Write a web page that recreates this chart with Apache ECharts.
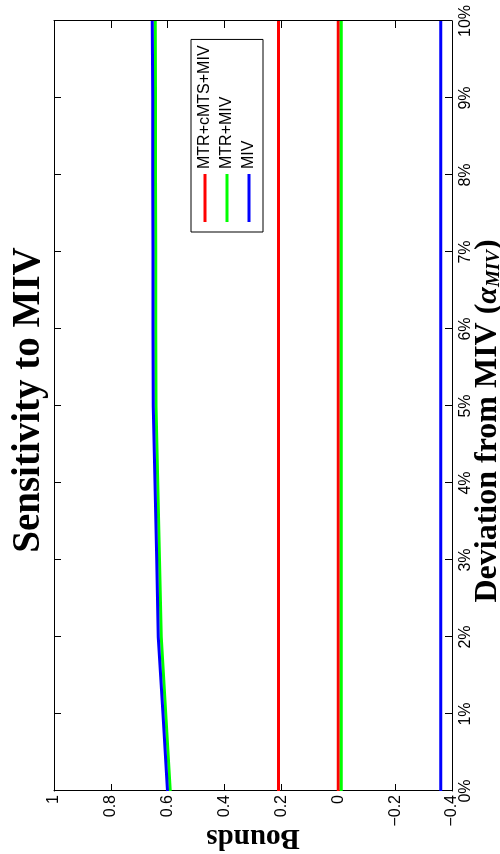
<!DOCTYPE html>
<html>
<head>
<meta charset="utf-8">
<script src="https://cdn.jsdelivr.net/npm/echarts@6/dist/echarts.min.js"></script>
<style>
html,body{margin:0;padding:0;width:500px;height:854px;overflow:hidden;background:#fff;}
#c{position:absolute;left:0;top:854px;width:854px;height:500px;transform-origin:0 0;transform:rotate(-90deg);}
</style>
</head>
<body>
<div id="c"></div>
<script>
// Deviation from MIV (percent)
const deviation = [0, 1, 2, 3, 4, 5, 6, 7, 8, 9, 10];
// Bounds: MTR+cMTS+MIV
const mtrCmtsMivUpper = [0.21, 0.21, 0.21, 0.21, 0.21, 0.21, 0.21, 0.21, 0.21, 0.21, 0.21];
const mtrCmtsMivLower = [0.0, 0.0, 0.0, 0.0, 0.0, 0.0, 0.0, 0.0, 0.0, 0.0, 0.0];
// Bounds: MTR+MIV
const mtrMivUpper = [0.591, 0.607, 0.623, 0.629, 0.635, 0.641, 0.642, 0.642, 0.643, 0.643, 0.644];
const mtrMivLower = [-0.01, -0.01, -0.01, -0.01, -0.01, -0.01, -0.01, -0.01, -0.01, -0.01, -0.01];
// Bounds: MIV
const mivUpper = [0.601, 0.617, 0.633, 0.639, 0.645, 0.651, 0.652, 0.652, 0.653, 0.653, 0.654];
const mivLower = [-0.36, -0.36, -0.36, -0.36, -0.36, -0.36, -0.36, -0.36, -0.36, -0.36, -0.36];

const seriesNames = ['MTR+cMTS+MIV', 'MTR+MIV', 'MIV'];
const seriesColors = ['#ff0000', '#00ff00', '#0000ff'];
const titleText = 'Sensitivity to MIV';
const yName = 'Bounds';

const pair = arr => deviation.map((d, i) => [d, arr[i]]);
const mk = (name, color, arr) => ({
  type: 'line', name: name, data: pair(arr), showSymbol: false, symbol: 'none',
  lineStyle: { color: color, width: 3 }, itemStyle: { color: color }, z: 3
});

const SANS = '"Liberation Sans", Arial, Helvetica, sans-serif';
const SERIF = '"Liberation Serif", "Times New Roman", serif';
const fmtY = v => { const r = Math.round(v * 10) / 10; return String(r).replace('-', '\u2212'); };

const chart = echarts.init(document.getElementById('c'));
const baseX = { type: 'value', min: 0, max: 10, interval: 1, splitLine: { show: false },
  axisLine: { show: true, onZero: false, lineStyle: { color: '#000', width: 1 } },
  axisTick: { show: true, inside: true, length: 7, lineStyle: { color: '#000' } } };
const baseY = { type: 'value', min: -0.4, max: 1, interval: 0.2, splitLine: { show: false },
  axisLine: { show: true, onZero: false, lineStyle: { color: '#000', width: 1 } },
  axisTick: { show: true, inside: true, length: 7, lineStyle: { color: '#000' } } };

chart.setOption({
  animation: false,
  backgroundColor: '#fff',
  title: {
    text: titleText, left: 449, top: 4, textAlign: 'center',
    textStyle: { fontFamily: SERIF, fontWeight: 'bold', fontSize: 39, color: '#000' }
  },
  legend: {
    orient: 'vertical', left: 622, top: 191,
    data: seriesNames,
    icon: 'rect', itemWidth: 48, itemHeight: 3, itemGap: 6,
    padding: [6, 6, 6, 10],
    backgroundColor: '#fff', borderColor: '#000', borderWidth: 1,
    textStyle: { fontFamily: SANS, fontSize: 16, color: '#000', lineHeight: 16 }
  },
  grid: { left: 63, right: 21, top: 54, bottom: 48, outerBoundsMode: 'none', containLabel: false },
  xAxis: [
    Object.assign({}, baseX, {
      position: 'bottom',
      name: 'Deviation from MIV ({a|\u03B1}{s|MIV})',
      nameLocation: 'middle', nameGap: 20, nameMoveOverlap: false,
      nameTextStyle: { fontFamily: SERIF, fontWeight: 'bold', fontSize: 32, color: '#000',
        padding: [0, 30, 0, 0],
        rich: {
          a: { fontFamily: SERIF, fontStyle: 'italic', fontSize: 30, color: '#000' },
          s: { fontFamily: SERIF, fontStyle: 'italic', fontSize: 19, color: '#000', padding: [12, 0, 0, 0] }
        } },
      axisLabel: { show: true, margin: 6, fontFamily: SANS, fontSize: 16, color: '#000',
        showMinLabel: true, showMaxLabel: true, formatter: v => Math.round(v) + '%' }
    }),
    Object.assign({}, baseX, { position: 'top', axisLabel: { show: false } })
  ],
  yAxis: [
    Object.assign({}, baseY, {
      position: 'left',
      name: yName, nameLocation: 'middle', nameGap: 32, nameMoveOverlap: false,
      nameTextStyle: { fontFamily: SERIF, fontWeight: 'bold', fontSize: 29, color: '#000' },
      axisLabel: { show: true, margin: 4, fontFamily: SANS, fontSize: 16, color: '#000',
        showMinLabel: true, showMaxLabel: true, formatter: fmtY }
    }),
    Object.assign({}, baseY, { position: 'right', axisLabel: { show: false } })
  ],
  series: [
    mk(seriesNames[0], seriesColors[0], mtrCmtsMivUpper),
    mk(seriesNames[0], seriesColors[0], mtrCmtsMivLower),
    mk(seriesNames[1], seriesColors[1], mtrMivUpper),
    mk(seriesNames[1], seriesColors[1], mtrMivLower),
    mk(seriesNames[2], seriesColors[2], mivUpper),
    mk(seriesNames[2], seriesColors[2], mivLower)
  ]
});
</script>
</body>
</html>
